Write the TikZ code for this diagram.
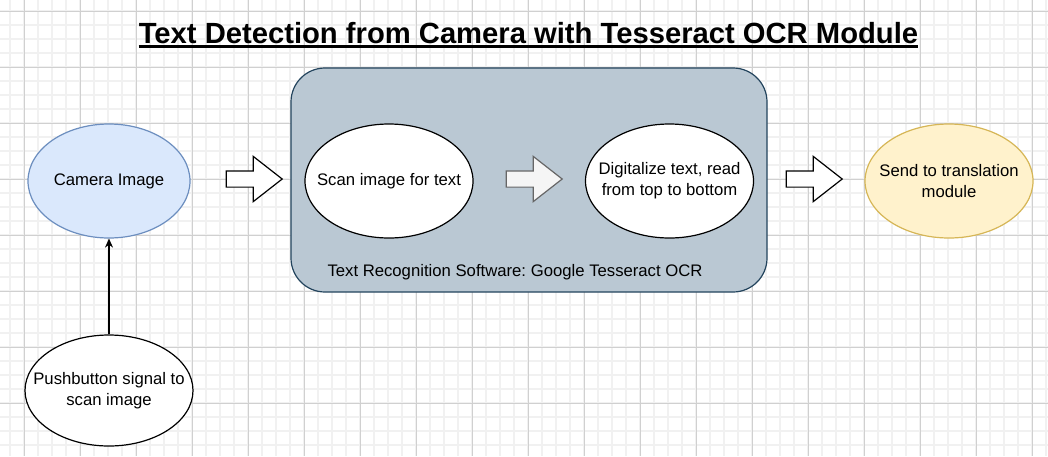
\documentclass[tikz,border=0pt]{standalone}
\usepackage{fontspec}
\setmainfont{Liberation Sans}
\frenchspacing
\usetikzlibrary{shapes,arrows.meta,positioning}
\definecolor{camfill}{HTML}{DAE8FC}
\definecolor{camline}{HTML}{6C8EBF}
\definecolor{sendfill}{HTML}{FFF2CC}
\definecolor{sendline}{HTML}{D6B656}
\definecolor{ocrfill}{HTML}{BAC8D3}
\definecolor{ocrline}{HTML}{23445D}
\definecolor{grayfill}{HTML}{F5F5F5}
\definecolor{grayline}{HTML}{666666}
\definecolor{minorgrid}{HTML}{F1F1F1}
\definecolor{majorgrid}{HTML}{D0D0D0}
\tikzset{
  minorline/.style = {draw=minorgrid, line width=1.6pt},
  majorline/.style = {draw=majorgrid, line width=0.9pt},
  label/.style     = {font=\fontsize{16.7}{21}\selectfont, align=center},
  process/.style   = {draw, ellipse, line width=1.2pt, fill=white,
                      inner xsep=-20pt, inner ysep=0pt,
                      minimum width=168pt, minimum height=114pt, label},
  blockarrow/.style = {single arrow, draw, line width=1.2pt, fill=white,
                      minimum height=56pt, inner xsep=0pt, inner ysep=7.5pt,
                      single arrow head extend=14.5pt, single arrow tip angle=76},
  signal/.style    = {-{Stealth[length=9pt,width=8pt]}, line width=1.2pt}
}

\begin{document}
\begin{tikzpicture}[x=1pt, y=-1pt]
    \useasboundingbox[fill=white] (0,0) rectangle (1048,456);
    % grid
    \foreach \gx in {10,24,...,1046} \draw[minorline] (\gx,0) -- (\gx,456);
    \foreach \gy in {11,25,...,455} \draw[minorline] (0,\gy) -- (1048,\gy);
    \foreach \gx in {24,80,...,1032} \draw[majorline] (\gx,0) -- (\gx,456);
    \foreach \gy in {11,67,...,403} \draw[majorline] (0,\gy) -- (1048,\gy);

    % title
    \node[inner sep=0pt, anchor=base, font=\fontsize{29.2}{34}\selectfont\bfseries]
      (title) at (528.5,43) {Text Detection from Camera with Tesseract OCR Module};
    \draw[line width=2.2pt] ([yshift=-3.5pt]title.base west) -- ([yshift=-3.5pt]title.base east);

    % OCR software box
    \node[draw=ocrline, fill=ocrfill, line width=1.2pt, rounded corners=34pt,
          minimum width=476pt, minimum height=224pt] (ocr) at (529,180) {};
    \node[label] (ocrname) at (515,272) {Text Recognition Software: Google Tesseract OCR};

    \node[process, draw=camline, fill=camfill, minimum width=162pt] (camera) at (109,181) {Camera Image};
    \node[process, minimum height=111pt] (button) at (109,390.5) {Pushbutton signal to\\scan image};
    \node[process] (scan) at (389,181) {Scan image for text};
    \node[process] (digit) at (669.5,181) {Digitalize text, read\\from top to bottom};
    \node[process, draw=sendline, fill=sendfill] (send) at (949,181) {Send to translation\\module};

    \node[blockarrow] (a1) at (249,179) {};
    \node[blockarrow, draw=grayline, fill=grayfill] (a2) at (529,179) {};
    \node[blockarrow] (a3) at (809,179) {};

    \draw[signal] (button) -- (camera);
\end{tikzpicture}
\end{document}
